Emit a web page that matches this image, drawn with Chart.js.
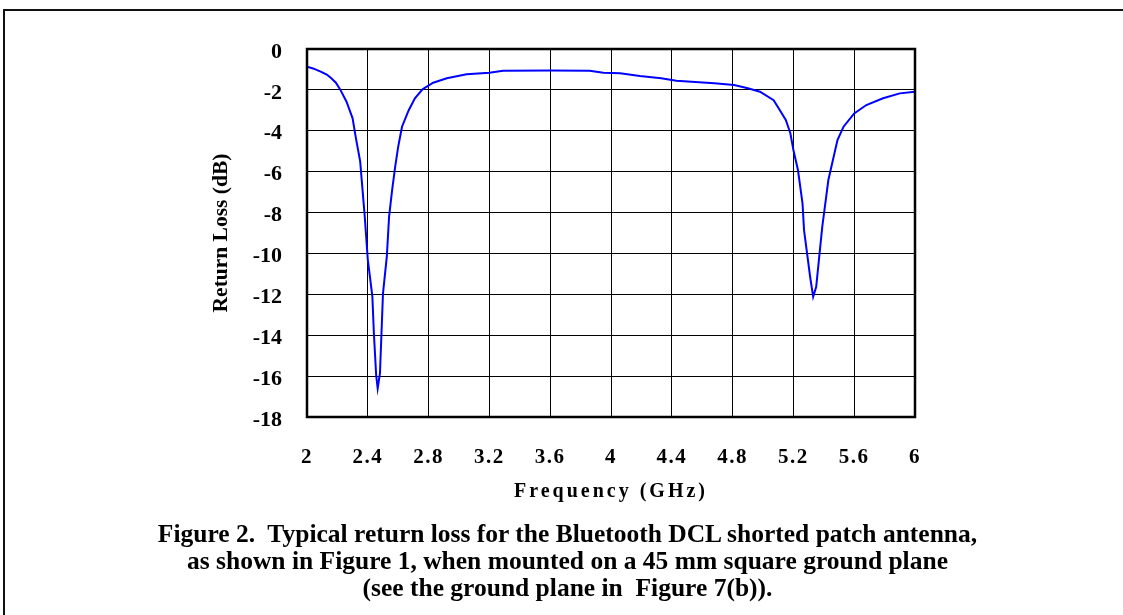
<!DOCTYPE html>
<html lang="en">
<head>
  <meta charset="UTF-8">
  <title>Return Loss - Bluetooth DCL Shorted Patch Antenna</title>
  <script src="https://cdn.jsdelivr.net/npm/chart.js"></script>
  <style>
    body {
      margin: 0;
      padding: 0;
      background: #ffffff;
      font-family: 'Liberation Serif', 'Times New Roman', serif;
    }
    .figure {
      position: relative;
      width: 1123px;
      height: 615px;
      overflow: hidden;
    }
    .frame {
      position: absolute;
      left: 3px;
      top: 9px;
      width: 1200px;
      height: 700px;
      border-left: 2px solid #111;
      border-top: 2px solid #111;
    }
    #chart {
      position: absolute;
      left: 0;
      top: 0;
    }
    .caption {
      position: absolute;
      left: 0;
      width: 1135px;
      top: 520px;
      text-align: center;
      font-weight: bold;
      font-size: 25.5px;
      line-height: 27px;
      color: #000;
    }
  </style>
</head>
<body>
  <div class="figure">
    <div class="frame"></div>
    <canvas id="chart" width="1123" height="615"></canvas>
    <div class="caption">
      Figure 2.&nbsp; Typical return loss for the Bluetooth DCL shorted patch antenna,<br>
      as shown in Figure 1, when mounted on a 45 mm square ground plane<br>
      (see the ground plane in &nbsp;Figure 7(b)).
    </div>
  </div>

  <script>
    const freqGHz = [2.00, 2.04, 2.09, 2.13, 2.16, 2.19, 2.22, 2.26, 2.30, 2.32,
      2.35, 2.36, 2.38, 2.40, 2.43, 2.44, 2.455, 2.465, 2.48, 2.49,
      2.50, 2.525, 2.54, 2.56, 2.58, 2.60, 2.625, 2.67, 2.71, 2.76,
      2.83, 2.92, 3.05, 3.20, 3.29, 3.60, 3.86, 3.95, 4.06, 4.19,
      4.33, 4.43, 4.68, 4.81, 4.90, 4.98, 5.07, 5.11, 5.15, 5.18,
      5.20, 5.23, 5.26, 5.27, 5.29, 5.31, 5.33, 5.35, 5.37, 5.39,
      5.41, 5.43, 5.46, 5.49, 5.53, 5.60, 5.68, 5.79, 5.90, 6.00];
    const returnLossDb = [-0.87, -0.95, -1.11, -1.25, -1.43, -1.65, -2.0, -2.58, -3.39, -4.29,
      -5.51, -6.41, -8.2, -10.3, -12.1, -13.9, -15.95, -16.6, -15.87, -13.9,
      -11.95, -10.16, -8.2, -6.9, -5.76, -4.78, -3.8, -2.98, -2.41, -1.97,
      -1.65, -1.43, -1.24, -1.16, -1.06, -1.05, -1.06, -1.16, -1.19, -1.32,
      -1.43, -1.55, -1.68, -1.76, -1.92, -2.09, -2.5, -2.98, -3.47, -4.12,
      -4.94, -5.92, -7.55, -8.86, -10.0, -11.14, -12.12, -11.63, -10.16, -8.69,
      -7.55, -6.41, -5.43, -4.45, -3.8, -3.15, -2.74, -2.41, -2.17, -2.09];

    // axis ticks
    const freqTicks = [2, 2.4, 2.8, 3.2, 3.6, 4, 4.4, 4.8, 5.2, 5.6, 6];
    const lossTicks = [0, -2, -4, -6, -8, -10, -12, -14, -16, -18];

    const points = freqGHz.map((f, i) => ({ x: f, y: returnLossDb[i] }));

    // thick frame round the plot area
    const plotFrame = {
      id: 'plotFrame',
      afterDraw(chart) {
        const a = chart.chartArea;
        const ctx = chart.ctx;
        ctx.save();
        ctx.strokeStyle = '#000';
        ctx.lineWidth = 2.5;
        ctx.strokeRect(a.left, a.top, a.right - a.left, a.bottom - a.top);
        ctx.restore();
      }
    };

    // x labels and title are letter-spaced in the original
    const spacedX = {
      id: 'spacedX',
      afterLayout(chart) {
        const sc = chart.scales.x;
        if (!sc || sc._spaced) return;
        sc._spaced = true;
        const dl = sc.drawLabels.bind(sc);
        const dt = sc.drawTitle.bind(sc);
        sc.drawLabels = function (area) {
          const ctx = chart.ctx;
          ctx.save(); ctx.letterSpacing = '1.5px'; dl(area); ctx.restore();
        };
        sc.drawTitle = function (area) {
          const ctx = chart.ctx;
          ctx.save(); ctx.letterSpacing = '3px'; dt(area); ctx.restore();
        };
      }
    };

    new Chart(document.getElementById('chart'), {
      type: 'line',
      data: {
        datasets: [{
          label: 'Return Loss',
          data: points,
          borderColor: '#0000ff',
          borderWidth: 2,
          pointRadius: 0,
          tension: 0,
          fill: false
        }]
      },
      options: {
        responsive: false,
        animation: false,
        layout: {
          padding: { left: 200, right: 208, top: 49, bottom: 98 }
        },
        plugins: {
          legend: { display: false },
          tooltip: { enabled: false }
        },
        scales: {
          x: {
            type: 'linear',
            min: 2,
            max: 6,
            afterBuildTicks: (scale) => { scale.ticks = freqTicks.map(v => ({ value: v })); },
            afterFit: (scale) => { scale.height = 100; },
            grid: { color: '#000', lineWidth: 1, drawTicks: false },
            border: { display: false },
            ticks: {
              color: '#000',
              padding: 28,
              maxRotation: 0,
              autoSkip: false,
              font: { family: 'Liberation Serif', size: 21, weight: 'bold' },
              callback: (v) => String(v)
            },
            title: {
              display: true,
              text: 'Frequency (GHz)',
              color: '#000',
              font: { family: 'Liberation Serif', size: 20, weight: 'bold' },
              padding: { top: 0, bottom: 13 }
            }
          },
          y: {
            min: -18,
            max: 0,
            afterBuildTicks: (scale) => { scale.ticks = lossTicks.map(v => ({ value: v })); },
            afterFit: (scale) => { scale.width = 107; },
            grid: { color: '#000', lineWidth: 1, drawTicks: false },
            border: { display: false },
            ticks: {
              color: '#000',
              padding: 25,
              labelOffset: 3,
              autoSkip: false,
              font: { family: 'Liberation Serif', size: 22, weight: 'bold' }
            },
            title: {
              display: true,
              text: 'Return Loss (dB)',
              color: '#000',
              font: { family: 'Liberation Serif', size: 21.5, weight: 'bold' },
              padding: { top: 9, bottom: 0 }
            }
          }
        }
      },
      plugins: [plotFrame, spacedX]
    });
  </script>
</body>
</html>
